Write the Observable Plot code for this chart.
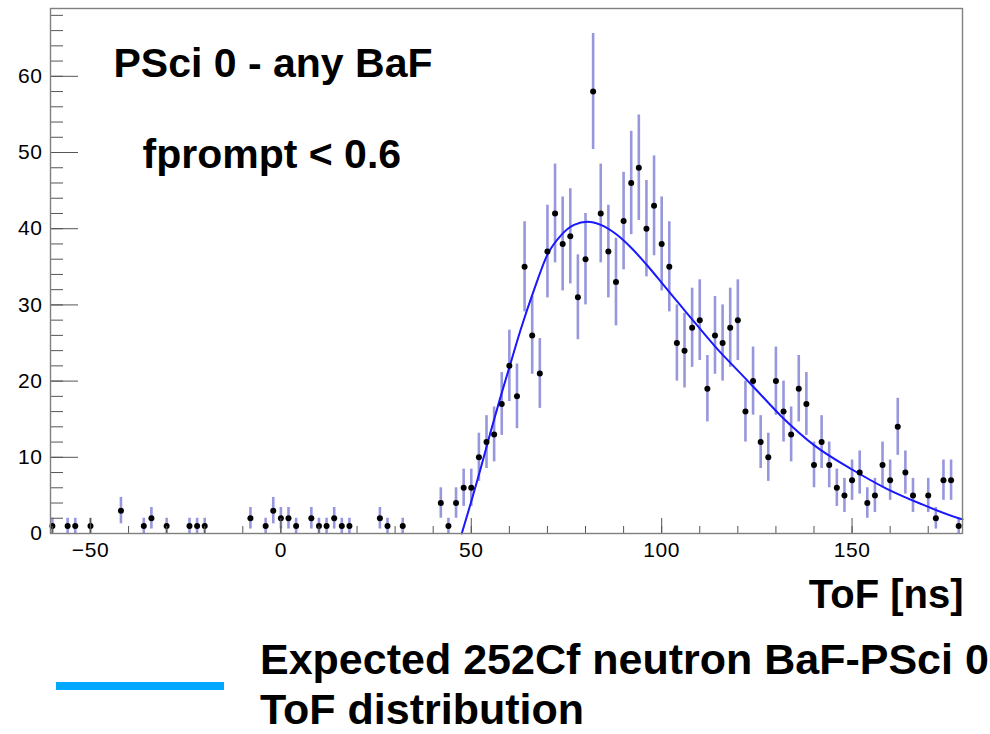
<!DOCTYPE html>
<html>
<head>
<meta charset="utf-8">
<script src="https://cdn.jsdelivr.net/npm/d3@7"></script>
<script src="https://cdn.jsdelivr.net/npm/@observablehq/plot@0.6"></script>
<style>
  html, body { margin: 0; padding: 0; background: #fff; }
  #wrap { width: 990px; height: 734px; position: relative; overflow: hidden; font-family: "Liberation Sans", Arial, Helvetica, sans-serif; }
  #legend { position: relative; width: 990px; height: 114px; }
  #swatch { position: absolute; left: 56px; top: 62px; width: 168px; height: 8px; background: #00a8ff; }
  #legtext { position: absolute; left: 260px; top: 14px; font-size: 43px; font-weight: bold; line-height: 50px; color: #000; white-space: nowrap; }
  .ticklab text { letter-spacing: 0.6px; }
</style>
</head>
<body>
<div id="wrap">
  <div id="chart"></div>
  <div id="legend">
    <div id="swatch"></div>
    <div id="legtext">Expected 252Cf neutron BaF-PSci 0<br>ToF distribution</div>
  </div>
</div>
<script>
// ToF bin centres (ns) and counts
const tofBins = [
  -60, -56, -54, -50, -42, -36, -34, -30, -24, -22, -20,
  -8, -4, -2, 0, 2, 4, 8, 10, 12, 14, 16, 18, 26, 28, 32,
  42, 44, 46, 48, 50, 52, 54, 56, 58, 60, 62, 64, 66, 68,
  70, 72, 74, 76, 78, 80, 82, 84, 86, 88, 90, 92, 94, 96, 98,
  100, 102, 104, 106, 108, 110, 112, 114, 116, 118, 120, 122, 124, 126, 128,
  130, 132, 134, 136, 138, 140, 142, 144, 146, 148, 150, 152, 154, 156, 158,
  160, 162, 164, 166, 170, 172, 174, 176, 178
];
const counts = [
  1, 1, 1, 1, 3, 1, 2, 1, 1, 1, 1,
  2, 1, 3, 2, 2, 1, 2, 1, 1, 2, 1, 1, 2, 1, 1,
  4, 1, 4, 6, 6, 10, 12, 13, 17, 22, 18, 35, 26, 21,
  37, 42, 38, 39, 31, 36, 58, 42, 37, 33, 41, 46, 48, 40, 43,
  38, 35, 25, 24, 27, 28, 19, 26, 25, 27, 28, 16, 20, 12, 10,
  20, 16, 13, 19, 17, 9, 12, 9, 6, 5, 7, 8, 4, 5, 9,
  7, 14, 8, 5, 5, 2, 7, 7, 1
];

// Expected 252Cf neutron ToF distribution
const expectedX = [47.5, 50, 52.5, 55, 57.5, 60, 63, 66.5, 70, 73.5, 77, 80.5, 84, 88, 92, 96, 101, 105, 109, 115, 119, 124, 132, 140, 150, 159, 168, 178, 179];
const expectedY = [0, 4.2, 8.6, 13.2, 17.6, 21.8, 26.8, 32.0, 36.6, 39.1, 40.5, 40.9, 40.5, 39.3, 37.5, 35.3, 32.3, 29.9, 27.5, 24.0, 21.9, 19.3, 15.1, 11.6, 8.4, 5.9, 3.9, 2.0, 1.85];

// Axis ticks
const xMajorTicks = [-50, 0, 50, 100, 150];
const xMinorTicks = [-60, -50, -40, -30, -20, -10, 0, 10, 20, 30, 40, 50, 60, 70, 80, 90, 100, 110, 120, 130, 140, 150, 160, 170];
const yMajorTicks = [0, 10, 20, 30, 40, 50, 60];
const yMinorTicks = [0, 2, 4, 6, 8, 10, 12, 14, 16, 18, 20, 22, 24, 26, 28, 30, 32, 34, 36, 38, 40, 42, 44, 46, 48, 50, 52, 54, 56, 58, 60, 62, 64, 66, 68];

const titleLines = ["PSci 0 - any BaF", "fprompt < 0.6"];
const xTitle = "ToF [ns]";

const hist = tofBins.map((x, i) => ({x, y: counts[i], err: Math.sqrt(counts[i])}));
const expected = expectedX.map((x, i) => ({x, y: expectedY[i]}));

const W = 990, H = 620, mL = 50, mR = 28, mT = 8, mB = 87;
const frameW = W - mL - mR, frameH = H - mT - mB;
const fmt = d => d < 0 ? "\u2212" + Math.abs(d) : String(d);

const chart = Plot.plot({
  width: W,
  height: H,
  marginLeft: mL,
  marginRight: mR,
  marginTop: mT,
  marginBottom: mB,
  style: {fontFamily: "'Liberation Sans', Arial, Helvetica, sans-serif", fontSize: "20px", background: "#fff"},
  x: {domain: [-60.5, 179], axis: null},
  y: {domain: [0, 68.9], axis: null},
  marks: [
    // error bars
    Plot.ruleX(hist, {x: "x", y1: d => d.y - d.err, y2: d => d.y + d.err, stroke: "#9797de", strokeWidth: 2.6}),
    // expected curve
    Plot.line(expected, {x: "x", y: "y", stroke: "#d33", strokeWidth: 1, curve: "monotone-x"}),
    Plot.line(expected, {x: "x", y: "y", stroke: "#1a1aff", strokeWidth: 2, curve: "monotone-x"}),
    // points
    Plot.dot(hist, {x: "x", y: "y", r: 3, fill: "#000", stroke: "none"}),
    // ticks
    Plot.tickY(yMajorTicks, {y: d => d, insetRight: frameW - 28, stroke: "#555", strokeWidth: 1}),
    Plot.tickY(yMinorTicks, {y: d => d, insetRight: frameW - 13, stroke: "#555", strokeWidth: 1}),
    Plot.tickX(xMajorTicks, {x: d => d, insetTop: frameH - 15, stroke: "#555", strokeWidth: 1}),
    Plot.tickX(xMinorTicks, {x: d => d, insetTop: frameH - 7, stroke: "#555", strokeWidth: 1}),
    // tick labels (drawn as text marks on the scales)
    Plot.text(yMajorTicks, {y: d => d, text: fmt, frameAnchor: "left", dx: -8, textAnchor: "end", lineAnchor: "middle", fontSize: 21, fill: "#000", className: "ticklab"}),
    Plot.text(xMajorTicks, {x: d => d, text: fmt, frameAnchor: "bottom", dy: 9, textAnchor: "middle", lineAnchor: "top", fontSize: 21, fill: "#000", className: "ticklab"}),
    Plot.frame({stroke: "#808080", strokeWidth: 1.4}),
    // titles inside the frame
    Plot.text([titleLines[0]], {text: d => d, frameAnchor: "top-left", dx: 63, dy: 39, lineAnchor: "top", textAnchor: "start", fontSize: 41, fontWeight: "bold", fill: "#000"}),
    Plot.text([titleLines[1]], {text: d => d, frameAnchor: "top-left", dx: 92, dy: 130, lineAnchor: "top", textAnchor: "start", fontSize: 41, fontWeight: "bold", fill: "#000"}),
    // x-axis title
    Plot.text([xTitle], {text: d => d, frameAnchor: "bottom-right", dx: 1, dy: 46, lineAnchor: "top", textAnchor: "end", fontSize: 40, fontWeight: "bold", fill: "#000"})
  ]
});
document.getElementById("chart").appendChild(chart);
</script>
</body>
</html>
